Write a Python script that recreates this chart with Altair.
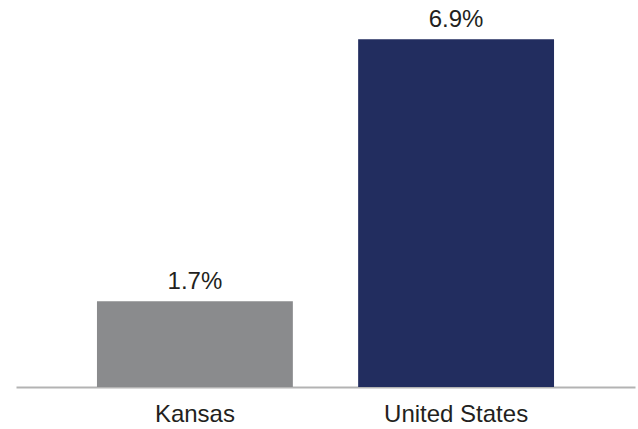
import altair as alt
import pandas as pd

categories = ["Kansas", "United States"]
values = [1.7, 6.9]
labels = ["1.7%", "6.9%"]
colors = ["#8a8b8d", "#222d5f"]

df = pd.DataFrame({"cat": categories, "val": values, "label": labels, "color": colors})

x = alt.X("cat:N", sort=categories, title=None,
          scale=alt.Scale(paddingInner=0.25, paddingOuter=0.31),
          axis=alt.Axis(labelAngle=0, ticks=False, domainColor="#b3b3b3", domainWidth=2,
                        labelFont="Liberation Sans", labelFontSize=24, labelColor="#231f20",
                        labelPadding=15, labelBaseline="top"))
y = alt.Y("val:Q", title=None, scale=alt.Scale(domain=[0, 7.68], nice=False, zero=True),
          axis=None)

bars = alt.Chart(df).mark_bar().encode(x=x, y=y, color=alt.Color("color:N", scale=None))
text = alt.Chart(df).mark_text(baseline="alphabetic", dy=-12, font="Liberation Sans",
                               fontSize=24, color="#231f20").encode(
    x=alt.X("cat:N", sort=categories), y="val:Q", text="label:N")

chart = alt.layer(bars, text).properties(
    width=619, height=387,
    padding={"left": 16, "top": 0, "right": 3, "bottom": 42},
    autosize=alt.AutoSizeParams(type="none"),
).configure_view(stroke=None)

chart.save("out.html", embed_options={"renderer": "svg", "actions": False})
